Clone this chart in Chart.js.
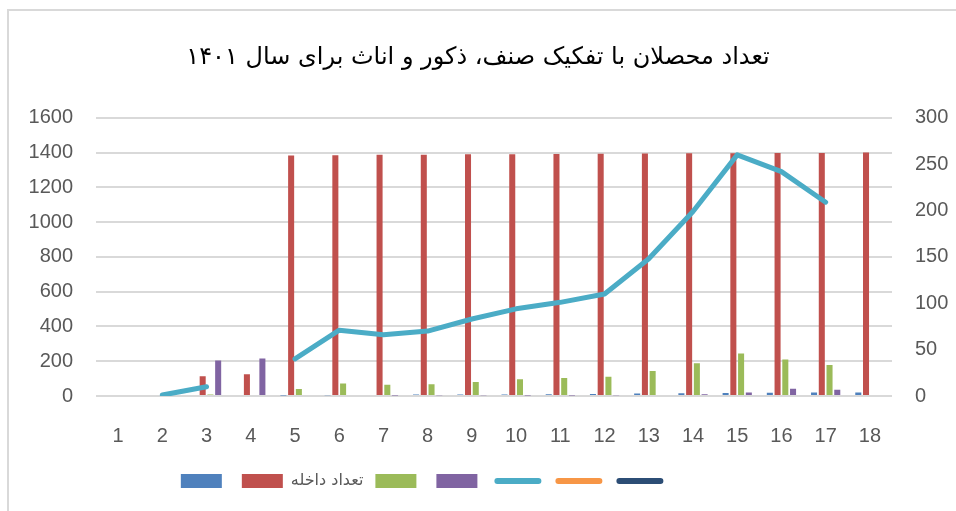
<!DOCTYPE html>
<html>
<head>
<meta charset="utf-8">
<script src="https://cdn.jsdelivr.net/npm/chart.js@4.4.0/dist/chart.umd.min.js"></script>
<style>
  html, body { margin: 0; padding: 0; background: #fff; overflow: hidden; }
  #frame { position: absolute; left: 7px; top: 9px; width: 1000px; height: 600px; border-left: 2px solid #d9d9d9; border-top: 2px solid #d9d9d9; }
  #chart { position: absolute; left: 0; top: 0; }
</style>
</head>
<body>
<div id="frame"></div>
<canvas id="chart" width="956" height="511"></canvas>
<script>
// data
const categories = ['1', '2', '3', '4', '5', '6', '7', '8', '9', '10', '11', '12', '13', '14', '15', '16', '17', '18'];
const leftTicks = [0, 200, 400, 600, 800, 1000, 1200, 1400, 1600];
const rightTicks = [0, 50, 100, 150, 200, 250, 300];

const seriesBlue   = [0, 0, 0, 0, 3, 5, 6, 8, 8, 9, 10, 12, 14, 16, 17, 18, 20, 20];
const seriesRed    = [0, 0, 113, 125, 1383, 1385, 1387, 1388, 1390, 1390, 1392, 1393, 1394, 1396, 1396, 1398, 1398, 1400];
const seriesGreen  = [0, 0, 8, 0, 40, 72, 65, 68, 81, 96, 104, 110, 144, 189, 244, 210, 178, 0];
const seriesPurple = [0, 0, 204, 215, 0, 0, 3, 4, 5, 3, 3, 5, 6, 10, 20, 42, 36, 0];
const seriesLine   = [null, 1, 10, null, 40, 71, 66, 70, 83, 94, 101, 110, 148, 199, 260, 242, 209, null];
const seriesOrange = categories.map(() => null);
const seriesNavy   = categories.map(() => null);

const titleText = 'تعداد محصلان با تفکیک صنف، ذکور و اناث برای سال ۱۴۰۱';
const redLabel = 'تعداد داخله';

const gray = '#595959';
const tickFont = { family: "'Liberation Sans', Arial, sans-serif", size: 20 };

function barSet(label, data, color) {
    return {
        type: 'bar', label: label, data: data, yAxisID: 'y',
        backgroundColor: color, borderWidth: 0, pointStyle: 'rect',
        categoryPercentage: 0.7, barPercentage: 0.78, order: 2
    };
}

function lineSet(label, data, color) {
    return {
        type: 'line', label: label, data: data, yAxisID: 'y1',
        borderColor: color, backgroundColor: color, borderWidth: 5,
        borderCapStyle: 'round', borderJoinStyle: 'round',
        pointRadius: 0, pointStyle: 'line', pointBorderColor: color,
        spanGaps: false, tension: 0, order: 1
    };
}

const plainTick = (value) => String(value);

const ctx = document.getElementById('chart').getContext('2d');
new Chart(ctx, {
    data: {
        labels: categories,
        datasets: [
            barSet('', seriesBlue, '#4f81bd'),
            barSet(redLabel, seriesRed, '#c0504d'),
            barSet('', seriesGreen, '#9bbb59'),
            barSet('', seriesPurple, '#8064a2'),
            lineSet('', seriesLine, '#4bacc6'),
            lineSet('', seriesOrange, '#f79646'),
            lineSet('', seriesNavy, '#2c4d75')
        ]
    },
    options: {
        responsive: false,
        devicePixelRatio: 1,
        animation: false,
        layout: { padding: { top: 0, left: 0, right: 0, bottom: 12 } },
        scales: {
            x: {
                grid: { display: false },
                border: { display: false },
                ticks: { color: gray, font: tickFont, padding: 20, maxRotation: 0 },
                afterFit: (scale) => { scale.height = 65; }
            },
            y: {
                position: 'left',
                min: leftTicks[0], max: leftTicks[leftTicks.length - 1],
                afterBuildTicks: (scale) => { scale.ticks = leftTicks.map(v => ({ value: v })); },
                grid: { color: '#d9d9d9', lineWidth: 2, drawTicks: false },
                border: { display: false },
                ticks: { color: gray, font: tickFont, padding: 23, callback: plainTick },
                afterFit: (scale) => { scale.width = 96; }
            },
            y1: {
                position: 'right',
                min: rightTicks[0], max: rightTicks[rightTicks.length - 1],
                afterBuildTicks: (scale) => { scale.ticks = rightTicks.map(v => ({ value: v })); },
                grid: { display: false, drawTicks: false },
                border: { display: false },
                ticks: { color: gray, font: tickFont, padding: 23, callback: plainTick },
                afterFit: (scale) => { scale.width = 64; }
            }
        },
        plugins: {
            tooltip: { enabled: false },
            title: {
                display: true,
                text: titleText,
                color: '#000',
                font: { family: "'DejaVu Sans', sans-serif", size: 24, weight: 'normal' },
                padding: { top: 43, bottom: 46 }
            },
            legend: {
                position: 'bottom',
                labels: {
                    usePointStyle: true,
                    pointStyleWidth: 41,
                    boxHeight: 14,
                    padding: 12,
                    color: gray,
                    font: { family: "'DejaVu Sans', sans-serif", size: 16 },
                    generateLabels: (chart) => {
                        const items = Chart.defaults.plugins.legend.labels.generateLabels(chart);
                        // keep the legend in dataset order (draw order puts the line on top)
                        items.sort((a, b) => a.datasetIndex - b.datasetIndex);
                        items.forEach(item => {
                            if (item.pointStyle === 'line') {
                                item.lineWidth = 6;
                                item.lineCap = 'round';
                            }
                        });
                        // blank trailing entry so the visible row sits left of centre like the original
                        items.push({ text: ' '.repeat(9), fillStyle: 'rgba(0,0,0,0)', strokeStyle: 'rgba(0,0,0,0)', lineWidth: 0, pointStyle: 'rect', hidden: false, datasetIndex: -1 });
                        return items;
                    }
                }
            }
        }
    }
});
</script>
</body>
</html>
